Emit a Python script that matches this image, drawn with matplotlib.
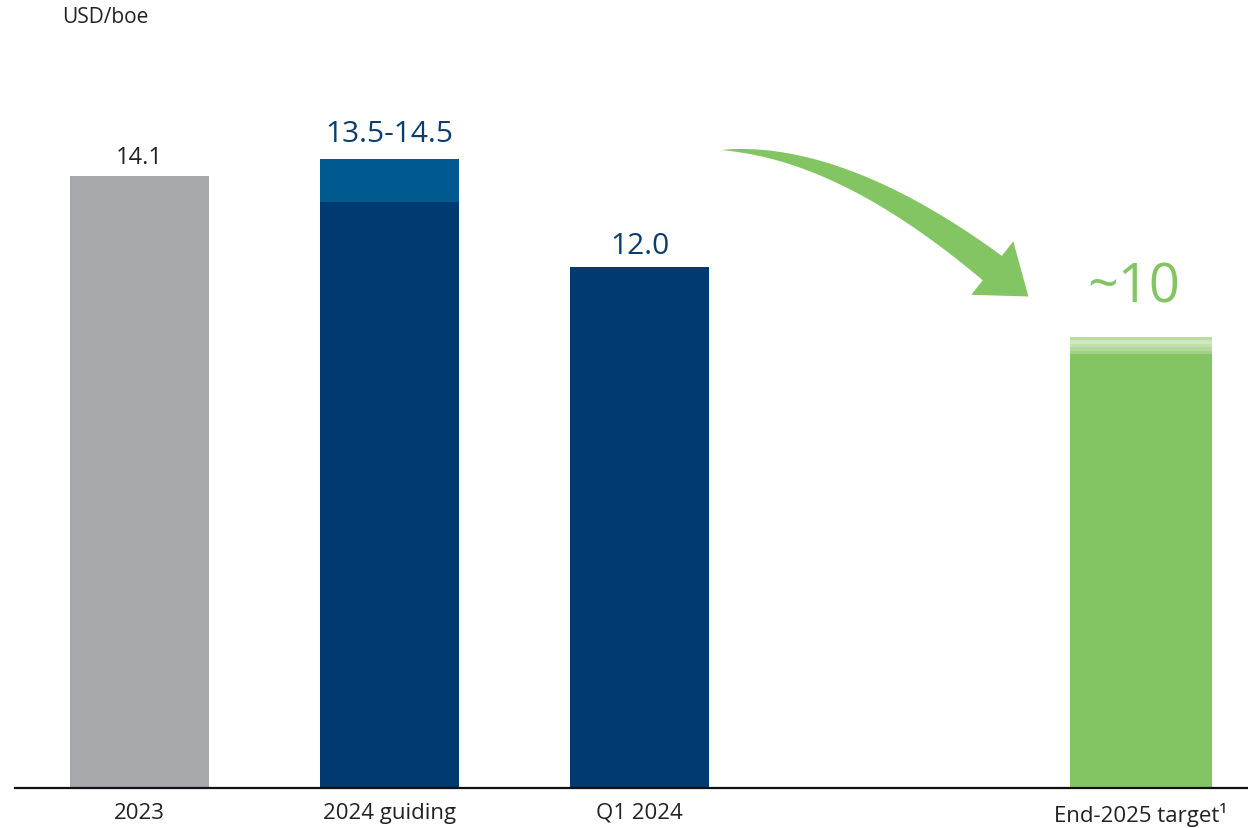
#!/usr/bin/env python3
"""Unit cost bar chart: 2023 actual, 2024 guiding range, Q1 2024, end-2025 target."""
import numpy as np
import matplotlib

matplotlib.use("Agg")
import matplotlib.pyplot as plt
from matplotlib.patches import Polygon

plt.rcParams["font.family"] = ["Open Sans", "DejaVu Sans"]

# --- data -----------------------------------------------------------------
categories = ["2023", "2024 guiding", "Q1 2024", "End-2025 target\u00b9"]
positions = [0, 1, 2, 4.006]
values = [14.1, 13.5, 12.0, 10.0]          # solid bar heights
guide_high = 14.5                           # top of 2024 guiding range
target_fade = 0.4                           # faded band above the ~10 target
value_labels = ["14.1", "13.5-14.5", "12.0", "~10"]

GREY = "#A7A9AC"
NAVY = "#003A70"
MIDBLUE = "#005A8F"
GREEN = "#84C563"
bar_colors = [GREY, NAVY, NAVY, GREEN]
label_colors = ["#222222", "#0B3D6E", "#0B3D6E", GREEN]
label_sizes = [17, 21.5, 21.5, 39]
label_offsets = [5, 8, 5, 16]

W, H, DPI = 1248, 829, 100
fig = plt.figure(figsize=(W / DPI, H / DPI), dpi=DPI)
ax = fig.add_axes([15 / W, 40 / H, 1 - 15 / W, 1 - 40 / H])

width = 0.556
ax.bar(positions[:3], values[:3], width=width, color=bar_colors[:3], zorder=2)
ax.bar(positions[3], values[3], width=width + 0.012, color=bar_colors[3], zorder=2)

# 2024 guiding range on top of the low end
ax.bar(positions[1], guide_high - values[1], bottom=values[1], width=width,
       color=MIDBLUE, zorder=2)

# faded stripes over the target bar
fade_cols = ["#A3D187", "#B4D99D", "#C1E0AE", "#CDE7BF", "#B9DCA3"]
nstep = len(fade_cols)
for i, c in enumerate(fade_cols):
    ax.bar(positions[3], target_fade / nstep, bottom=values[3] + i * target_fade / nstep,
           width=width + 0.012, color=c, zorder=2, linewidth=0)

# value labels
tops = [values[0], guide_high, values[2], values[3] + target_fade]
for x, top, txt, col, fs, off in zip(positions, tops, value_labels, label_colors,
                                     label_sizes, label_offsets):
    ax.annotate(txt, (x - (0.03 if txt == "~10" else 0), top), xytext=(0, off),
                textcoords="offset points", ha="center", va="bottom",
                fontsize=fs, color=col)

ax.set_xlim(-0.498, 4.434)
ax.set_ylim(0, 789 / 43.4)
ax.set_xticks(positions)
ax.set_xticklabels(categories, fontsize=16, color="#222222")
ax.tick_params(axis="x", length=0, pad=10)
ax.set_yticks([])
for s in ("left", "right", "top"):
    ax.spines[s].set_visible(False)
ax.spines["bottom"].set_linewidth(1.6)
ax.spines["bottom"].set_color("#111111")

fig.text(62 / W, 1 - 7 / H, "USD/boe", ha="left", va="top", fontsize=15,
         color="#222222")

# --- curved tapered arrow from Q1 2024 down to the target ---------------------
fig.canvas.draw()
start = ax.transData.transform((positions[2] + 0.33, 14.7))
ctrl = ax.transData.transform((positions[2] + 0.81, 14.7))
end = ax.transData.transform((positions[3] - 0.595, 11.98))
t = np.linspace(0, 1, 80)[:, None]
curve = (1 - t) ** 2 * start + 2 * (1 - t) * t * ctrl + t ** 2 * end
deriv = 2 * (1 - t) * (ctrl - start) + 2 * t * (end - ctrl)
tang = deriv / np.linalg.norm(deriv, axis=1, keepdims=True)
norm = np.column_stack([-tang[:, 1], tang[:, 0]])
half = 15.5 * t[:, 0] ** 0.85
left = curve + norm * half[:, None]
right = curve - norm * half[:, None]
tip_dir = tang[-1]
tip_n = norm[-1]
head = [end + tip_n * 34, end + tip_dir * 46, end - tip_n * 34]
pts = np.vstack([left, head, right[::-1]])
pts = ax.transData.inverted().transform(pts)
ax.add_patch(Polygon(pts, closed=True, color=GREEN, lw=0, zorder=3,
                     clip_on=False))

fig.savefig("out.png", dpi=DPI)
